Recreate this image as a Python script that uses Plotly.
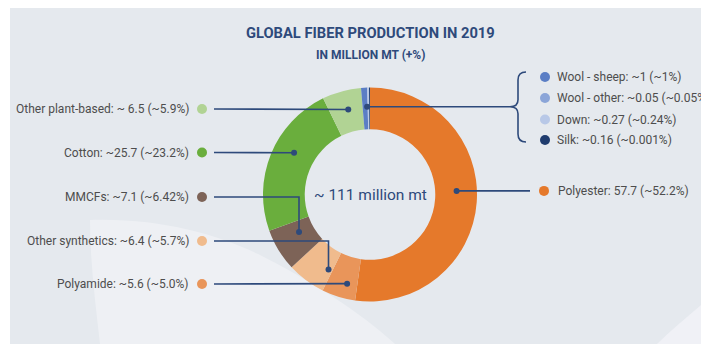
import math
import plotly.graph_objects as go

# Global fiber production 2019, million metric tons
fibers = ["Polyester", "Polyamide", "Other synthetics", "MMCFs", "Cotton",
          "Other plant-based", "Wool - sheep", "Wool - other", "Down", "Silk"]
volumes = [57.7, 5.6, 6.4, 7.1, 25.7, 6.5, 1.0, 0.05, 0.27, 0.16]
volume_text = ["57.7", "~5.6", "~6.4", "~7.1", "~25.7", "~ 6.5", "~1", "~0.05", "~0.27", "~0.16"]
share_text = ["~52.2%", "~5.0%", "~5.7%", "~6.42%", "~23.2%", "~5.9%", "~1%", "~0.05%", "~0.24%", "~0.001%"]
colors = ["#e5792b", "#e9955a", "#f0bb8d", "#7d6357", "#6aae3d", "#b1d394",
          "#5b7ec5", "#8ba5d8", "#b8c8e7", "#1f3c6e"]
total_label = "~ 111 million mt"
title = "GLOBAL FIBER PRODUCTION IN 2019"
subtitle = "IN MILLION MT (+%)"

W, H = 701, 344
CX, CY, R = 370.0, 194.5, 107.0
HOLE = 0.61
NAVY = "#2e4a7b"
TEXT = "#4d4d4d"
FONT = "Roboto, Liberation Sans, sans-serif"

total = sum(volumes)
starts, acc = [], 0.0
for v in volumes:
    starts.append(acc / total * 360.0)
    acc += v


def anchor(i, frac, rfrac):
    """Point inside slice i: fraction along its arc, fraction of outer radius."""
    a = starts[i] + frac * volumes[i] / total * 360.0
    r = rfrac * R
    t = math.radians(a)
    return CX + r * math.sin(t), CY - r * math.cos(t)


def label(i):
    return f"{fibers[i]}: {volume_text[i]} ({share_text[i]})"


fig = go.Figure()
fig.add_trace(go.Pie(
    values=volumes, labels=fibers, sort=False, direction="clockwise", rotation=0,
    hole=HOLE, marker=dict(colors=colors, line=dict(width=0)),
    textinfo="none", hoverinfo="label+value", showlegend=False,
    domain=dict(x=[(CX - R) / W, (CX + R) / W], y=[1 - (CY + R) / H, 1 - (CY - R) / H]),
))

shapes, annos = [], []
# background panel and soft decorative swooshes
shapes.append(dict(type="rect", x0=10, x1=W, y0=8, y1=H, fillcolor="#e5e9ee",
                   line=dict(width=0), layer="below"))
shapes.append(dict(type="path",
                   path="M 90 220 C 160 218, 215 234, 258 254 C 310 280, 360 312, 395 344 "
                        "L 100 344 C 95 300, 90 260, 90 220 Z",
                   fillcolor="#eef0f4", line=dict(width=0), layer="below"))
shapes.append(dict(type="path", path="M 701 305 C 686 318, 670 331, 657 344 L 701 344 Z",
                   fillcolor="#f0f1f6", line=dict(width=0), layer="below"))


def dot(x, y, r, color):
    shapes.append(dict(type="circle", x0=x - r, x1=x + r, y0=y - r, y1=y + r,
                       fillcolor=color, line=dict(width=0)))


def line_path(pts):
    d = "M " + " L ".join(f"{x:.1f} {y:.1f}" for x, y in pts)
    shapes.append(dict(type="path", path=d, line=dict(color=NAVY, width=1.6)))


# left-hand callouts: (slice, label y, arc fraction, radius fraction, elbow)
left = [(5, 109, 0.55, 0.82, False),
        (4, 152.5, 0.58, 0.81, False),
        (3, 197, 0.65, 0.75, True),
        (2, 241, 0.13, 0.80, True),
        (1, 284, 0.35, 0.86, False)]
for i, ly, f, rf, elbow in left:
    ax, ay = anchor(i, f, rf)
    if elbow:
        line_path([(214, ly), (ax, ly), (ax, ay)])
    else:
        line_path([(214, ly), (ax, ay)])
    dot(ax, ay, 3, NAVY)
    dot(202, ly, 5, colors[i])
    annos.append(dict(x=191, y=ly, text=label(i), xanchor="right", yanchor="middle"))

# polyester on the right
px, py = anchor(0, 0.466, 0.81)
line_path([(px, py), (530, py)])
dot(px, py, 3, NAVY)
dot(544, py, 5, colors[0])
annos.append(dict(x=556, y=py, text=label(0), xanchor="left", yanchor="middle"))

# animal fibres grouped behind a brace
wx, wy = anchor(6, 0.9, 0.82)
line_path([(wx, wy), (510, wy)])
dot(wx, wy, 3, NAVY)
shapes.append(dict(type="path",
                   path=f"M 526 72 Q 518 72 518 80 L 518 {wy - 7} Q 518 {wy} 510 {wy} "
                        f"Q 518 {wy} 518 {wy + 7} L 518 134 Q 518 142 526 142",
                   line=dict(color=NAVY, width=1.6)))
for i, gy in zip([6, 7, 8, 9], [77, 98, 119.5, 140]):
    dot(545, gy, 5, colors[i])
    annos.append(dict(x=555, y=gy, text=label(i), xanchor="left", yanchor="middle"))

for a in annos:
    a.update(xref="x", yref="y", showarrow=False, font=dict(family=FONT, size=12, color=TEXT))

annos.append(dict(x=CX, y=CY, xref="x", yref="y", text=total_label, showarrow=False,
                  font=dict(family=FONT, size=15.5, color=NAVY)))
annos.append(dict(x=370, y=33, xref="x", yref="y", text=f"<b>{title}</b>", showarrow=False,
                  font=dict(family=FONT, size=14.7, color=NAVY)))
annos.append(dict(x=370, y=55, xref="x", yref="y", text=f"<b>{subtitle}</b>", showarrow=False,
                  font=dict(family=FONT, size=12, color=NAVY)))

fig.update_layout(
    width=W, height=H, margin=dict(l=0, r=0, t=0, b=0),
    paper_bgcolor="white", plot_bgcolor="rgba(0,0,0,0)",
    xaxis=dict(range=[0, W], visible=False, fixedrange=True),
    yaxis=dict(range=[H, 0], visible=False, fixedrange=True),
    shapes=shapes, annotations=annos,
)
fig.write_html("out.html")
